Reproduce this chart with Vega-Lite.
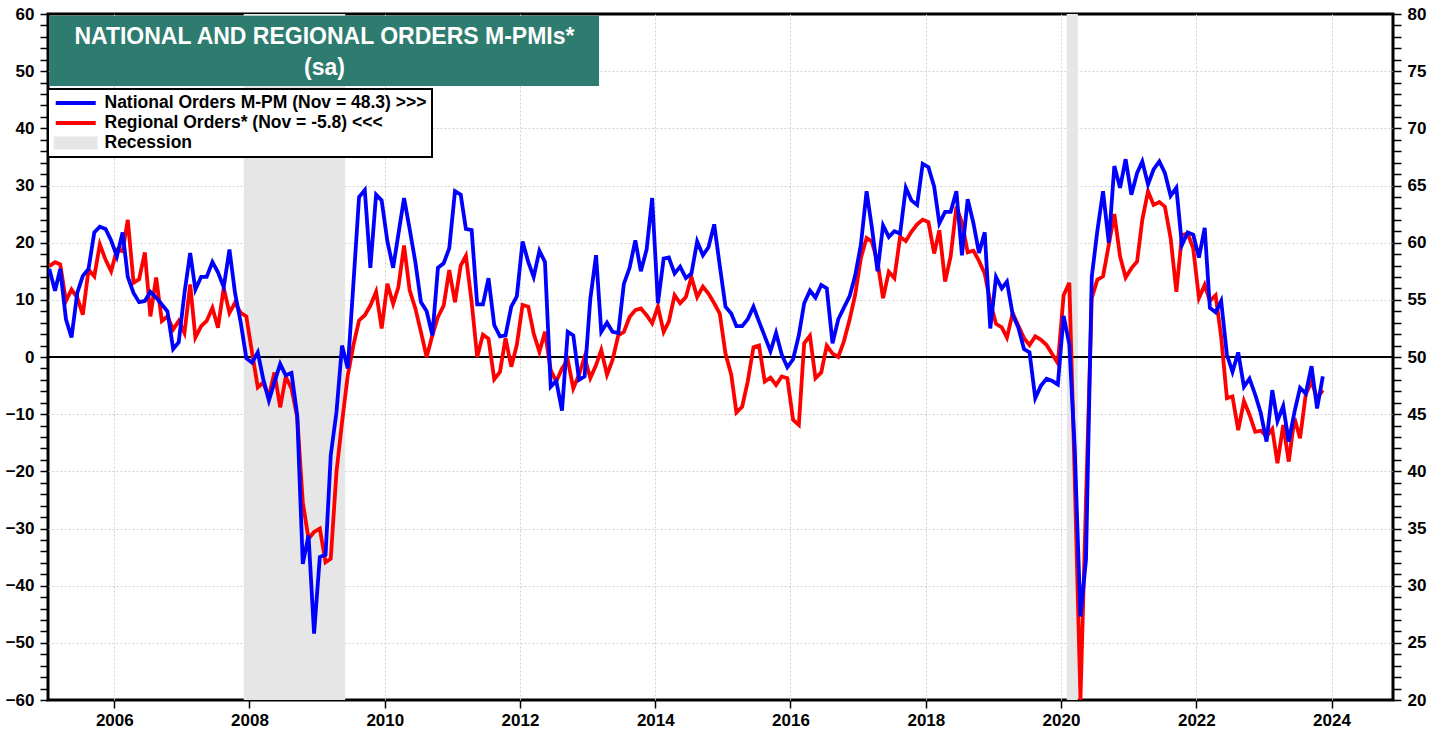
{
  "$schema": "https://vega.github.io/schema/vega-lite/v6.json",
  "width": 1345,
  "height": 686,
  "autosize": {"type": "none"},
  "padding": {"left": 48, "top": 14, "right": 53, "bottom": 31},
  "background": "white",
  "config": {
    "view": {"stroke": "black", "strokeWidth": 3},
    "font": "Liberation Sans"
  },
  "datasets": {
    "rec": [
      {"s": "2007-12-01", "e": "2009-06-01", "c": "Recession"},
      {"s": "2020-02-01", "e": "2020-04-01", "c": "Recession"}
    ],
    "pmi": [
      {"d":"2005-01-15","n":57.7,"r":15.9},{"d":"2005-02-15","n":55.8,"r":16.6},{"d":"2005-03-15","n":57.7,"r":16.2},{"d":"2005-04-15","n":53.3,"r":9.8},{"d":"2005-05-15","n":51.7,"r":11.8},{"d":"2005-06-15","n":55.6,"r":10.4},{"d":"2005-07-15","n":57.1,"r":7.4},{"d":"2005-08-15","n":57.7,"r":15.3},{"d":"2005-09-15","n":60.9,"r":14.1},{"d":"2005-10-15","n":61.4,"r":19.7},{"d":"2005-11-15","n":61.2,"r":17},{"d":"2005-12-15","n":60.2,"r":15},
      {"d":"2006-01-15","n":58.8,"r":18.8},{"d":"2006-02-15","n":60.9,"r":18.5},{"d":"2006-03-15","n":57,"r":24},{"d":"2006-04-15","n":55.6,"r":13},{"d":"2006-05-15","n":54.8,"r":13.6},{"d":"2006-06-15","n":54.9,"r":18.3},{"d":"2006-07-15","n":55.7,"r":7.1},{"d":"2006-08-15","n":55.2,"r":13.9},{"d":"2006-09-15","n":54.6,"r":6.3},{"d":"2006-10-15","n":54,"r":7.1},{"d":"2006-11-15","n":50.7,"r":4.8},{"d":"2006-12-15","n":51.3,"r":6.3},
      {"d":"2007-01-15","n":55.6,"r":4.2},{"d":"2007-02-15","n":59.1,"r":12.7},{"d":"2007-03-15","n":55.9,"r":3.4},{"d":"2007-04-15","n":57,"r":5.4},{"d":"2007-05-15","n":57,"r":6.3},{"d":"2007-06-15","n":58.3,"r":8.6},{"d":"2007-07-15","n":57.4,"r":5.1},{"d":"2007-08-15","n":56.1,"r":12.1},{"d":"2007-09-15","n":59.4,"r":7.7},{"d":"2007-10-15","n":55.6,"r":9.5},{"d":"2007-11-15","n":53,"r":7.7},{"d":"2007-12-15","n":49.9,"r":7.1},
      {"d":"2008-01-15","n":49.5,"r":0.8},{"d":"2008-02-15","n":50.4,"r":-5.3},{"d":"2008-03-15","n":48.1,"r":-4.5},{"d":"2008-04-15","n":46.2,"r":-6.9},{"d":"2008-05-15","n":47.8,"r":-2.7},{"d":"2008-06-15","n":49.4,"r":-8.8},{"d":"2008-07-15","n":48.4,"r":-3.5},{"d":"2008-08-15","n":48.6,"r":-5.5},{"d":"2008-09-15","n":44.9,"r":-10.5},{"d":"2008-10-15","n":31.9,"r":-25.4},{"d":"2008-11-15","n":34.4,"r":-31.8},{"d":"2008-12-15","n":25.8,"r":-30.6},
      {"d":"2009-01-15","n":32.5,"r":-30},{"d":"2009-02-15","n":32.7,"r":-35.9},{"d":"2009-03-15","n":41.4,"r":-35.3},{"d":"2009-04-15","n":45.2,"r":-20.1},{"d":"2009-05-15","n":51,"r":-11.4},{"d":"2009-06-15","n":49,"r":-3.2},{"d":"2009-07-15","n":56.3,"r":2},{"d":"2009-08-15","n":64,"r":6.4},{"d":"2009-09-15","n":64.6,"r":7.3},{"d":"2009-10-15","n":57.8,"r":9},{"d":"2009-11-15","n":64.2,"r":11.4},{"d":"2009-12-15","n":63.7,"r":5},
      {"d":"2010-01-15","n":60.1,"r":12.8},{"d":"2010-02-15","n":57.8,"r":9.3},{"d":"2010-03-15","n":60.7,"r":12.2},{"d":"2010-04-15","n":63.9,"r":19.5},{"d":"2010-05-15","n":61.2,"r":11.7},{"d":"2010-06-15","n":58.3,"r":8.5},{"d":"2010-07-15","n":54.8,"r":4.4},{"d":"2010-08-15","n":54,"r":0},{"d":"2010-09-15","n":51.9,"r":3.8},{"d":"2010-10-15","n":57.8,"r":7},{"d":"2010-11-15","n":58.2,"r":9},{"d":"2010-12-15","n":59.5,"r":15.2},
      {"d":"2011-01-15","n":64.5,"r":9.6},{"d":"2011-02-15","n":64.2,"r":16},{"d":"2011-03-15","n":61.2,"r":17.7},{"d":"2011-04-15","n":61.1,"r":9.6},{"d":"2011-05-15","n":54.6,"r":0},{"d":"2011-06-15","n":54.6,"r":3.9},{"d":"2011-07-15","n":56.9,"r":3.2},{"d":"2011-08-15","n":52.8,"r":-3.9},{"d":"2011-09-15","n":51.8,"r":-2.6},{"d":"2011-10-15","n":51.9,"r":3.3},{"d":"2011-11-15","n":54.4,"r":-1.7},{"d":"2011-12-15","n":55.3,"r":2.1},
      {"d":"2012-01-15","n":60.1,"r":9.1},{"d":"2012-02-15","n":58.3,"r":8.8},{"d":"2012-03-15","n":57,"r":4.1},{"d":"2012-04-15","n":59.3,"r":0.9},{"d":"2012-05-15","n":58.3,"r":4.4},{"d":"2012-06-15","n":47.4,"r":-2.3},{"d":"2012-07-15","n":47.9,"r":-4.3},{"d":"2012-08-15","n":45.3,"r":-2},{"d":"2012-09-15","n":52.2,"r":-0.5},{"d":"2012-10-15","n":51.9,"r":-5.5},{"d":"2012-11-15","n":48,"r":-3.1},{"d":"2012-12-15","n":48.3,"r":0},
      {"d":"2013-01-15","n":55.1,"r":-3.7},{"d":"2013-02-15","n":58.9,"r":-1.4},{"d":"2013-03-15","n":52.2,"r":1.2},{"d":"2013-04-15","n":53,"r":-3.1},{"d":"2013-05-15","n":52.2,"r":-0.5},{"d":"2013-06-15","n":52.1,"r":3.8},{"d":"2013-07-15","n":56.4,"r":4.4},{"d":"2013-08-15","n":57.8,"r":7},{"d":"2013-09-15","n":60.2,"r":8.2},{"d":"2013-10-15","n":57.5,"r":8.5},{"d":"2013-11-15","n":59.4,"r":7.3},{"d":"2013-12-15","n":63.9,"r":5.9},
      {"d":"2014-01-15","n":54.7,"r":8.8},{"d":"2014-02-15","n":58.6,"r":4.4},{"d":"2014-03-15","n":58.7,"r":6.2},{"d":"2014-04-15","n":57.3,"r":10.8},{"d":"2014-05-15","n":57.9,"r":9.4},{"d":"2014-06-15","n":56.9,"r":10.5},{"d":"2014-07-15","n":57.3,"r":14},{"d":"2014-08-15","n":60.1,"r":10.5},{"d":"2014-09-15","n":58.9,"r":12.3},{"d":"2014-10-15","n":59.6,"r":11.1},{"d":"2014-11-15","n":61.6,"r":9.4},{"d":"2014-12-15","n":58,"r":7.6},
      {"d":"2015-01-15","n":54.4,"r":0.6},{"d":"2015-02-15","n":53.8,"r":-3.1},{"d":"2015-03-15","n":52.7,"r":-9.7},{"d":"2015-04-15","n":52.7,"r":-8.7},{"d":"2015-05-15","n":53.3,"r":-4.3},{"d":"2015-06-15","n":54.4,"r":1.7},{"d":"2015-07-15","n":53.1,"r":2},{"d":"2015-08-15","n":51.8,"r":-4.3},{"d":"2015-09-15","n":50.5,"r":-3.6},{"d":"2015-10-15","n":52.1,"r":-4.9},{"d":"2015-11-15","n":50.2,"r":-3.4},{"d":"2015-12-15","n":49.1,"r":-3.7},
      {"d":"2016-01-15","n":49.8,"r":-11},{"d":"2016-02-15","n":51.9,"r":-11.9},{"d":"2016-03-15","n":54.7,"r":2.4},{"d":"2016-04-15","n":55.8,"r":3.7},{"d":"2016-05-15","n":55.2,"r":-3.7},{"d":"2016-06-15","n":56.3,"r":-2.7},{"d":"2016-07-15","n":56,"r":2},{"d":"2016-08-15","n":51.2,"r":0.6},{"d":"2016-09-15","n":53.3,"r":0},{"d":"2016-10-15","n":54.3,"r":2.7},{"d":"2016-11-15","n":55.3,"r":6.5},{"d":"2016-12-15","n":57.1,"r":10.8},
      {"d":"2017-01-15","n":59.8,"r":17.3},{"d":"2017-02-15","n":64.5,"r":20.8},{"d":"2017-03-15","n":61.4,"r":20.2},{"d":"2017-04-15","n":57.5,"r":16.7},{"d":"2017-05-15","n":61.5,"r":10.3},{"d":"2017-06-15","n":60.5,"r":14.9},{"d":"2017-07-15","n":61,"r":13.8},{"d":"2017-08-15","n":60.8,"r":21},{"d":"2017-09-15","n":64.8,"r":20.3},{"d":"2017-10-15","n":63.7,"r":21.9},{"d":"2017-11-15","n":63.3,"r":23.2},{"d":"2017-12-15","n":66.9,"r":24},
      {"d":"2018-01-15","n":66.6,"r":23.6},{"d":"2018-02-15","n":64.9,"r":18.1},{"d":"2018-03-15","n":61.7,"r":22.2},{"d":"2018-04-15","n":62.7,"r":13.2},{"d":"2018-05-15","n":62.7,"r":17.6},{"d":"2018-06-15","n":64.5,"r":26.3},{"d":"2018-07-15","n":58.9,"r":23.5},{"d":"2018-08-15","n":63.8,"r":18.3},{"d":"2018-09-15","n":61.7,"r":18.6},{"d":"2018-10-15","n":59.1,"r":16.8},{"d":"2018-11-15","n":60.9,"r":14.6},{"d":"2018-12-15","n":52.5,"r":9.6},
      {"d":"2019-01-15","n":57,"r":5.8},{"d":"2019-02-15","n":56,"r":5.2},{"d":"2019-03-15","n":56.6,"r":3.4},{"d":"2019-04-15","n":53.7,"r":7.7},{"d":"2019-05-15","n":52.6,"r":5.5},{"d":"2019-06-15","n":50.7,"r":3.3},{"d":"2019-07-15","n":50.4,"r":2.1},{"d":"2019-08-15","n":46.4,"r":3.6},{"d":"2019-09-15","n":47.5,"r":3},{"d":"2019-10-15","n":48.1,"r":2.1},{"d":"2019-11-15","n":47.9,"r":0.5},{"d":"2019-12-15","n":47.6,"r":-1.1},
      {"d":"2020-01-15","n":53.6,"r":10.8},{"d":"2020-02-15","n":51.1,"r":13},{"d":"2020-03-15","n":42,"r":-21},{"d":"2020-04-15","n":27.3,"r":-60},{"d":"2020-05-15","n":32.3,"r":-25},{"d":"2020-06-15","n":57,"r":10.3},{"d":"2020-07-15","n":61,"r":13.5},{"d":"2020-08-15","n":64.5,"r":14.1},{"d":"2020-09-15","n":60,"r":19.6},{"d":"2020-10-15","n":66.7,"r":25},{"d":"2020-11-15","n":64.8,"r":17.6},{"d":"2020-12-15","n":67.3,"r":13.9},
      {"d":"2021-01-15","n":64.2,"r":15.5},{"d":"2021-02-15","n":66.1,"r":16.7},{"d":"2021-03-15","n":67.1,"r":24},{"d":"2021-04-15","n":65.1,"r":29},{"d":"2021-05-15","n":66.4,"r":26.6},{"d":"2021-06-15","n":67.1,"r":27.1},{"d":"2021-07-15","n":66.1,"r":26.3},{"d":"2021-08-15","n":64.1,"r":20.8},{"d":"2021-09-15","n":64.8,"r":11.4},{"d":"2021-10-15","n":59.8,"r":21.3},{"d":"2021-11-15","n":60.9,"r":21.6},{"d":"2021-12-15","n":60.7,"r":19},
      {"d":"2022-01-15","n":58.7,"r":10.3},{"d":"2022-02-15","n":61.3,"r":12.6},{"d":"2022-03-15","n":54.3,"r":9.8},{"d":"2022-04-15","n":53.9,"r":10.8},{"d":"2022-05-15","n":54.9,"r":3.5},{"d":"2022-06-15","n":50.2,"r":-7.2},{"d":"2022-07-15","n":48.7,"r":-6.9},{"d":"2022-08-15","n":50.4,"r":-12.8},{"d":"2022-09-15","n":47.4,"r":-7.7},{"d":"2022-10-15","n":48.1,"r":-10.1},{"d":"2022-11-15","n":46.7,"r":-13.1},{"d":"2022-12-15","n":45.1,"r":-12.9},
      {"d":"2023-01-15","n":42.6,"r":-13.9},{"d":"2023-02-15","n":47.1,"r":-12.6},{"d":"2023-03-15","n":44.4,"r":-18.6},{"d":"2023-04-15","n":45.7,"r":-11.9},{"d":"2023-05-15","n":42.6,"r":-18.3},{"d":"2023-06-15","n":45.2,"r":-10.7},{"d":"2023-07-15","n":47.3,"r":-14.2},{"d":"2023-08-15","n":46.8,"r":-6.5},{"d":"2023-09-15","n":49.2,"r":-4.3},{"d":"2023-10-15","n":45.5,"r":-7.2},{"d":"2023-11-15","n":48.3,"r":-5.8}
    ]
  },
  "data": {"name": "pmi"},
  "layer": [
    {
      "data": {"name": "rec"},
      "mark": {"type": "rect"},
      "encoding": {
        "x": {"field": "s", "type": "temporal", "title": null,
              "scale": {"domain": [{"year": 2005, "month": 1, "date": 8}, {"year": 2024, "month": 11, "date": 28}]},
              "axis": {"orient": "bottom", "title": null, "values": [{"year": 2006, "month": 1, "date": 1}, {"year": 2008, "month": 1, "date": 1}, {"year": 2010, "month": 1, "date": 1}, {"year": 2012, "month": 1, "date": 1}, {"year": 2014, "month": 1, "date": 1}, {"year": 2016, "month": 1, "date": 1}, {"year": 2018, "month": 1, "date": 1}, {"year": 2020, "month": 1, "date": 1}, {"year": 2022, "month": 1, "date": 1}, {"year": 2024, "month": 1, "date": 1}], "format": "%Y", "labelOverlap": false, "labelFlush": false, "labelFont": "Liberation Sans", "labelFontSize": 17, "labelFontWeight": "bold", "labelColor": "black", "labelPadding": 4, "tickSize": 8, "tickColor": "black", "tickWidth": 1.5, "domain": false, "grid": true, "gridColor": "#d0d0d0", "gridDash": [2, 2], "gridWidth": 1}},
        "x2": {"field": "e"},
        "color": {
          "field": "c", "type": "nominal", "title": null,
          "scale": {
            "domain": ["National Orders M-PM (Nov = 48.3) >>>", "Regional Orders* (Nov = -5.8) <<<", "Recession"],
            "range": ["#0000ff", "#ff0000", "#e6e6e6"]
          },
          "legend": {
            "orient": "none", "legendX": 0, "legendY": 75, "direction": "vertical",
            "title": null,
            "fillColor": "white", "strokeColor": "black",
            "padding": 5, "rowPadding": 2, "clipHeight": 18,
            "symbolSize": 144, "symbolOffset": 14, "labelOffset": 20,
            "labelFont": "Liberation Sans", "labelFontSize": 17.5, "labelFontWeight": "bold", "labelColor": "black",
            "labelLimit": 0,
            "encode": {
              "legend": {"update": {"strokeWidth": {"value": 2}}},
              "symbols": {"update": {
                "shape": [{"test": "datum.value === 'Recession'", "value": "M-3.333,-0.77H3.333V0.77H-3.333Z"}, {"value": "M-3.333,0H3.333"}],
                "fill": [{"test": "datum.value === 'Recession'", "value": "#e6e6e6"}, {"value": "transparent"}],
                "stroke": [{"test": "datum.value === 'Recession'", "value": "#e6e6e6"}, {"test": "datum.value === 'Regional Orders* (Nov = -5.8) <<<'", "value": "#ff0000"}, {"value": "#0000ff"}],
                "strokeWidth": {"value": 4},
                "opacity": {"value": 1}
              }}
            }
          }
        }
      }
    },
    {
      "data": {"values": [{}]},
      "mark": {"type": "rule", "color": "black", "strokeWidth": 2},
      "encoding": {
        "y": {"datum": 0, "type": "quantitative", "axis": null, "scale": {"domain": [-60, 60], "nice": false, "zero": false}}
      }
    },
    {
      "data": {"values": [{}]},
      "mark": {"type": "rect", "fill": "#2e7c6f"},
      "encoding": {
        "x": {"datum": {"year": 2005, "month": 1, "date": 15}, "type": "temporal", "title": null,
              "axis": {"orient": "bottom", "title": null, "values": [{"year": 2006, "month": 1, "date": 1}, {"year": 2008, "month": 1, "date": 1}, {"year": 2010, "month": 1, "date": 1}, {"year": 2012, "month": 1, "date": 1}, {"year": 2014, "month": 1, "date": 1}, {"year": 2016, "month": 1, "date": 1}, {"year": 2018, "month": 1, "date": 1}, {"year": 2020, "month": 1, "date": 1}, {"year": 2022, "month": 1, "date": 1}, {"year": 2024, "month": 1, "date": 1}], "format": "%Y", "labelOverlap": false, "labelFlush": false, "labelFont": "Liberation Sans", "labelFontSize": 17, "labelFontWeight": "bold", "labelColor": "black", "labelPadding": 4, "tickSize": 8, "tickColor": "black", "tickWidth": 1.5, "domain": false, "grid": true, "gridColor": "#d0d0d0", "gridDash": [2, 2], "gridWidth": 1}},
        "x2": {"datum": {"year": 2013, "month": 3, "date": 3}},
        "y": {"datum": 59.7, "type": "quantitative", "axis": null, "scale": {"domain": [-60, 60], "nice": false, "zero": false}},
        "y2": {"datum": 47.4}
      }
    },
    {
      "data": {"values": [{"t": "NATIONAL AND REGIONAL ORDERS M-PMIs*", "v": 54.67}, {"t": "(sa)", "v": 49.33}]},
      "mark": {"type": "text", "font": "Liberation Sans", "fontSize": 23, "fontWeight": "bold", "color": "white", "align": "center", "baseline": "alphabetic"},
      "encoding": {
        "x": {"datum": {"year": 2009, "month": 2, "date": 9}, "type": "temporal", "title": null,
              "axis": {"orient": "bottom", "title": null, "values": [{"year": 2006, "month": 1, "date": 1}, {"year": 2008, "month": 1, "date": 1}, {"year": 2010, "month": 1, "date": 1}, {"year": 2012, "month": 1, "date": 1}, {"year": 2014, "month": 1, "date": 1}, {"year": 2016, "month": 1, "date": 1}, {"year": 2018, "month": 1, "date": 1}, {"year": 2020, "month": 1, "date": 1}, {"year": 2022, "month": 1, "date": 1}, {"year": 2024, "month": 1, "date": 1}], "format": "%Y", "labelOverlap": false, "labelFlush": false, "labelFont": "Liberation Sans", "labelFontSize": 17, "labelFontWeight": "bold", "labelColor": "black", "labelPadding": 4, "tickSize": 8, "tickColor": "black", "tickWidth": 1.5, "domain": false, "grid": true, "gridColor": "#d0d0d0", "gridDash": [2, 2], "gridWidth": 1}},
        "y": {"field": "v", "type": "quantitative", "axis": null, "scale": {"domain": [-60, 60], "nice": false, "zero": false}},
        "text": {"field": "t"}
      }
    },
    {
      "mark": {"type": "line", "color": "#ff0000", "strokeWidth": 3.8, "clip": true},
      "encoding": {
        "x": {"field": "d", "type": "temporal", "title": null,
              "scale": {"domain": [{"year": 2005, "month": 1, "date": 8}, {"year": 2024, "month": 11, "date": 28}]},
              "axis": {"orient": "bottom", "title": null, "values": [{"year": 2006, "month": 1, "date": 1}, {"year": 2008, "month": 1, "date": 1}, {"year": 2010, "month": 1, "date": 1}, {"year": 2012, "month": 1, "date": 1}, {"year": 2014, "month": 1, "date": 1}, {"year": 2016, "month": 1, "date": 1}, {"year": 2018, "month": 1, "date": 1}, {"year": 2020, "month": 1, "date": 1}, {"year": 2022, "month": 1, "date": 1}, {"year": 2024, "month": 1, "date": 1}], "format": "%Y", "labelOverlap": false, "labelFlush": false, "labelFont": "Liberation Sans", "labelFontSize": 17, "labelFontWeight": "bold", "labelColor": "black", "labelPadding": 4, "tickSize": 8, "tickColor": "black", "tickWidth": 1.5, "domain": false, "grid": true, "gridColor": "#d0d0d0", "gridDash": [2, 2], "gridWidth": 1}},
        "y": {"field": "r", "type": "quantitative", "title": null,
              "scale": {"domain": [-60, 60], "nice": false, "zero": false},
              "axis": {
                "orient": "left", "title": null,
                "tickCount": 60,
                "labelExpr": "datum.value % 10 === 0 ? format(datum.value, 'd') : ''",
                "labelOverlap": false, "labelFlush": false,
                "labelFont": "Liberation Sans", "labelFontSize": 17, "labelFontWeight": "bold", "labelColor": "black",
                "labelPadding": 6, "tickSize": 8, "tickColor": "black", "tickWidth": 1.5,
                "domain": false,
                "grid": true, "gridColor": "#d0d0d0", "gridDash": [2, 2], "gridWidth": 1,
                "gridOpacity": {"condition": {"test": "datum.value % 10 === 0 && datum.value !== 0 && abs(datum.value) !== 60", "value": 1}, "value": 0},
                "encode": {"ticks": {"update": {"x2": {"signal": "datum.value % 10 === 0 ? -8 : -4"}}}}
              }},
        "color": {"datum": "Regional Orders* (Nov = -5.8) <<<", "type": "nominal"}
      }
    },
    {
      "mark": {"type": "line", "color": "#0000ff", "strokeWidth": 3.8, "clip": true},
      "encoding": {
        "x": {"field": "d", "type": "temporal", "title": null,
              "scale": {"domain": [{"year": 2005, "month": 1, "date": 8}, {"year": 2024, "month": 11, "date": 28}]},
              "axis": {"orient": "bottom", "title": null, "values": [{"year": 2006, "month": 1, "date": 1}, {"year": 2008, "month": 1, "date": 1}, {"year": 2010, "month": 1, "date": 1}, {"year": 2012, "month": 1, "date": 1}, {"year": 2014, "month": 1, "date": 1}, {"year": 2016, "month": 1, "date": 1}, {"year": 2018, "month": 1, "date": 1}, {"year": 2020, "month": 1, "date": 1}, {"year": 2022, "month": 1, "date": 1}, {"year": 2024, "month": 1, "date": 1}], "format": "%Y", "labelOverlap": false, "labelFlush": false, "labelFont": "Liberation Sans", "labelFontSize": 17, "labelFontWeight": "bold", "labelColor": "black", "labelPadding": 4, "tickSize": 8, "tickColor": "black", "tickWidth": 1.5, "domain": false, "grid": true, "gridColor": "#d0d0d0", "gridDash": [2, 2], "gridWidth": 1}},
        "y": {"field": "n", "type": "quantitative", "title": null,
              "scale": {"domain": [20, 80], "nice": false, "zero": false},
              "axis": {
                "orient": "right", "title": null,
                "tickCount": 60,
                "labelExpr": "datum.value % 5 === 0 ? format(datum.value, 'd') : ''",
                "labelOverlap": false, "labelFlush": false,
                "labelFont": "Liberation Sans", "labelFontSize": 17, "labelFontWeight": "bold", "labelColor": "black",
                "labelPadding": 6, "tickSize": 8, "tickColor": "black", "tickWidth": 1.5,
                "domain": false, "grid": false,
                "encode": {"ticks": {"update": {"x2": {"signal": "datum.value % 5 === 0 ? 8 : 4"}}}}
              }},
        "color": {"datum": "National Orders M-PM (Nov = 48.3) >>>", "type": "nominal"}
      }
    }
  ],
  "resolve": {"scale": {"y": "independent"}}
}
